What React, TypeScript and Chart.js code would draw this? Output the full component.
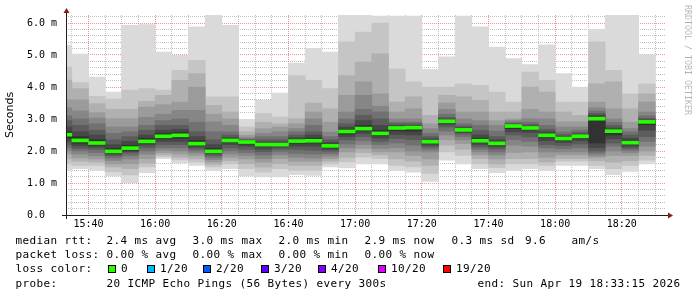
import React, { useEffect, useRef } from "react";
import { Chart, registerables } from "chart.js";

Chart.register(...registerables);

// ---- time axis -------------------------------------------------------------
const startTime = "15:33:15";
const endTime = "18:33:15";
// end time of each 5-minute RRD step
const steps = [
  "15:35", "15:40", "15:45", "15:50", "15:55", "16:00", "16:05", "16:10", "16:15",
  "16:20", "16:25", "16:30", "16:35", "16:40", "16:45", "16:50", "16:55", "17:00",
  "17:05", "17:10", "17:15", "17:20", "17:25", "17:30", "17:35", "17:40", "17:45",
  "17:50", "17:55", "18:00", "18:05", "18:10", "18:15", "18:20", "18:25", "18:30",
];
const timeTicks = ["15:40", "16:00", "16:20", "16:40", "17:00", "17:20", "17:40", "18:00", "18:20"];

// ---- y axis (ms) -------------------------------------------------------------
const yTickValues = [0, 1, 2, 3, 4, 5, 6];
const yTickLabels = ["0.0  ", "1.0 m", "2.0 m", "3.0 m", "4.0 m", "5.0 m", "6.0 m"];

// ---- median rtt per step (ms) --------------------------------------------------
const medianMs = [
  2.51, 2.33, 2.25, 1.99, 2.09, 2.30, 2.46, 2.49, 2.23, 1.99, 2.33, 2.28,
  2.20, 2.20, 2.31, 2.32, 2.16, 2.61, 2.70, 2.55, 2.72, 2.73, 2.29, 2.93,
  2.66, 2.32, 2.24, 2.78, 2.72, 2.49, 2.39, 2.46, 3.01, 2.62, 2.26, 2.91,
];

// ---- sorted ping rtts per step (ms), smoke is drawn between rank i and rank n-i ----
const s1535 = [1.41, 1.6, 1.75, 1.9, 2.0, 2.1, 2.2, 2.3, 2.4, 2.6, 2.75, 2.95, 3.1, 3.35, 3.6, 4.22, 4.63, 5.31];
const s1540 = [1.45, 1.55, 1.68, 1.78, 1.9, 2.0, 2.08, 2.16, 2.24, 2.45, 2.6, 2.8, 3.0, 3.25, 3.6, 3.95, 4.14, 5.03];
const s1545 = [1.4, 1.55, 1.65, 1.75, 1.85, 1.95, 2.05, 2.12, 2.18, 2.35, 2.5, 2.65, 2.85, 3.03, 3.2, 3.48, 3.71, 4.31];
const s1550 = [1.22, 1.35, 1.5, 1.6, 1.7, 1.78, 1.85, 1.9, 1.94, 2.08, 2.2, 2.35, 2.55, 2.75, 3.01, 3.3, 3.62, 3.84];
const s1555 = [1.01, 1.25, 1.45, 1.6, 1.75, 1.85, 1.93, 1.98, 2.02, 2.18, 2.3, 2.45, 2.6, 2.75, 3.01, 3.3, 3.9, 5.93];
const s1600 = [1.32, 1.5, 1.62, 1.76, 1.9, 2.0, 2.1, 2.18, 2.24, 2.4, 2.5, 2.65, 2.8, 3.05, 3.37, 3.55, 3.95, 5.95];
const s1605 = [1.76, 1.82, 1.88, 1.95, 2.02, 2.1, 2.2, 2.3, 2.38, 2.55, 2.65, 2.8, 2.95, 3.15, 3.45, 3.74, 3.9, 5.09];
const s1610 = [1.63, 1.72, 1.8, 1.9, 2.0, 2.1, 2.2, 2.3, 2.4, 2.58, 2.68, 2.8, 3.0, 3.27, 3.53, 4.21, 4.52, 4.99];
const s1615 = [1.55, 1.65, 1.75, 1.85, 1.93, 2.0, 2.06, 2.12, 2.18, 2.33, 2.45, 2.6, 2.9, 3.27, 4.0, 4.42, 4.83, 5.88];
const s1620 = [1.39, 1.5, 1.58, 1.66, 1.73, 1.8, 1.86, 1.91, 1.95, 2.08, 2.2, 2.35, 2.6, 2.91, 3.15, 3.43, 3.69, 6.24];
const s1625 = [1.45, 1.6, 1.7, 1.8, 1.9, 2.0, 2.1, 2.2, 2.28, 2.38, 2.42, 2.5, 2.6, 2.8, 3.0, 3.22, 3.69, 5.93];
const s1630 = [1.22, 1.45, 1.6, 1.75, 1.86, 1.95, 2.05, 2.15, 2.22, 2.31, 2.33, 2.35, 2.38, 2.42, 2.49, 2.6, 2.75, 2.99];
const s1635 = [1.19, 1.34, 1.5, 1.65, 1.76, 1.88, 1.98, 2.06, 2.14, 2.24, 2.28, 2.35, 2.45, 2.55, 2.7, 2.9, 3.17, 3.58];
const s1640 = [1.19, 1.45, 1.6, 1.76, 1.88, 1.97, 2.05, 2.12, 2.16, 2.24, 2.28, 2.35, 2.45, 2.6, 2.75, 2.85, 3.06, 3.81];
const s1645 = [1.26, 1.39, 1.55, 1.68, 1.8, 1.92, 2.05, 2.15, 2.24, 2.36, 2.42, 2.5, 2.6, 2.7, 2.85, 3.01, 4.36, 4.75];
const s1650 = [1.24, 1.39, 1.55, 1.68, 1.78, 1.9, 2.02, 2.15, 2.25, 2.4, 2.5, 2.6, 2.8, 3.0, 3.22, 3.5, 4.21, 5.2];
const s1655 = [1.5, 1.6, 1.68, 1.76, 1.84, 1.92, 1.99, 2.05, 2.1, 2.21, 2.27, 2.35, 2.45, 2.59, 2.9, 3.32, 3.95, 5.09];
const s1700 = [1.47, 1.66, 1.8, 1.97, 2.1, 2.22, 2.35, 2.45, 2.53, 2.68, 2.75, 2.85, 3.0, 3.22, 3.74, 4.36, 5.41, 6.26];
const s1705 = [1.6, 1.81, 1.95, 2.07, 2.2, 2.32, 2.45, 2.55, 2.63, 2.8, 2.95, 3.11, 3.3, 3.74, 4.16, 4.78, 5.72, 6.26];
const s1710 = [1.6, 1.76, 1.88, 1.97, 2.08, 2.2, 2.3, 2.4, 2.48, 2.65, 2.8, 3.0, 3.22, 3.4, 3.79, 5.04, 6.0, 6.22];
const s1715 = [1.39, 1.55, 1.75, 1.97, 2.1, 2.25, 2.39, 2.52, 2.63, 2.76, 2.8, 2.85, 2.9, 3.0, 3.22, 3.53, 4.57, 6.22];
const s1720 = [1.34, 1.5, 1.68, 1.86, 2.0, 2.18, 2.35, 2.5, 2.62, 2.77, 2.8, 2.85, 2.9, 3.0, 3.32, 3.69, 4.16, 6.22];
const s1725 = [1.05, 1.3, 1.55, 1.75, 1.97, 2.05, 2.12, 2.18, 2.24, 2.33, 2.38, 2.45, 2.55, 2.7, 2.85, 3.11, 4.0, 4.55];
const s1730 = [1.71, 1.97, 2.18, 2.35, 2.5, 2.62, 2.75, 2.83, 2.89, 2.97, 3.0, 3.05, 3.15, 3.3, 3.5, 3.74, 4.0, 4.94];
const s1735 = [1.6, 1.86, 2.05, 2.23, 2.35, 2.45, 2.53, 2.58, 2.62, 2.69, 2.73, 2.78, 2.85, 3.0, 3.22, 3.69, 4.1, 6.22];
const s1740 = [1.45, 1.6, 1.76, 1.88, 1.97, 2.05, 2.13, 2.2, 2.26, 2.4, 2.5, 2.64, 2.8, 2.95, 3.22, 3.58, 4.05, 5.88];
const s1745 = [1.32, 1.48, 1.6, 1.75, 1.88, 1.97, 2.06, 2.13, 2.19, 2.29, 2.35, 2.45, 2.62, 2.8, 2.95, 3.22, 3.84, 5.25];
const s1750 = [1.39, 1.6, 1.76, 1.95, 2.18, 2.35, 2.5, 2.6, 2.7, 2.81, 2.83, 2.86, 2.9, 2.95, 3.0, 3.22, 3.53, 4.89];
const s1755 = [1.45, 1.6, 1.76, 1.97, 2.15, 2.3, 2.44, 2.58, 2.66, 2.75, 2.78, 2.83, 2.9, 3.01, 3.3, 4.0, 4.47, 4.7];
const s1800 = [1.39, 1.55, 1.66, 1.8, 1.97, 2.1, 2.2, 2.32, 2.42, 2.54, 2.6, 2.68, 2.8, 3.0, 3.22, 3.84, 4.21, 5.32];
const s1805 = [1.55, 1.68, 1.76, 1.88, 1.97, 2.07, 2.17, 2.26, 2.33, 2.43, 2.46, 2.52, 2.6, 2.75, 2.91, 3.22, 3.53, 4.42];
const s1810 = [1.55, 1.68, 1.76, 1.88, 1.97, 2.1, 2.22, 2.32, 2.4, 2.49, 2.53, 2.58, 2.65, 2.75, 2.91, 3.11, 3.53, 4.0];
const s1815 = [1.45, 1.55, 1.7, 1.8, 1.86, 1.93, 2.0, 2.1, 2.25, 3.06, 3.12, 3.18, 3.25, 3.35, 3.53, 4.1, 5.41, 5.8];
const s1820 = [1.26, 1.45, 1.65, 1.86, 2.0, 2.15, 2.25, 2.38, 2.5, 2.67, 2.72, 2.8, 2.9, 3.0, 3.32, 4.16, 4.52, 6.24];
const s1825 = [1.36, 1.55, 1.7, 1.86, 1.95, 2.02, 2.08, 2.14, 2.2, 2.32, 2.4, 2.5, 2.6, 2.7, 2.9, 3.32, 3.79, 6.24];
const s1830 = [1.6, 1.71, 1.86, 2.0, 2.15, 2.3, 2.45, 2.65, 2.82, 2.94, 2.97, 3.02, 3.1, 3.22, 3.53, 3.79, 4.1, 5.01];

const smoke = [
  s1535, s1540, s1545, s1550, s1555, s1600, s1605, s1610, s1615, s1620, s1625, s1630,
  s1635, s1640, s1645, s1650, s1655, s1700, s1705, s1710, s1715, s1720, s1725, s1730,
  s1735, s1740, s1745, s1750, s1755, s1800, s1805, s1810, s1815, s1820, s1825, s1830,
];

// ---- legend texts ------------------------------------------------------------
const rttStats = ["2.4 ms avg", "3.0 ms max", "2.0 ms min", "2.9 ms now", "0.3 ms sd"];
const lossStats = ["0.00 % avg", "0.00 % max", "0.00 % min", "0.00 % now"];
const amsValue = "9.6";
const lossLabels = ["0", "1/20", "2/20", "3/20", "4/20", "10/20", "19/20"];
const lossColors = ["#26ff00", "#00b8ff", "#0059ff", "#5e00ff", "#7e00ff", "#dd00ff", "#ff0000"];
const probeText = "20 ICMP Echo Pings (56 Bytes) every 300s";

// ---- helpers -----------------------------------------------------------------
const toMin = (t: string) => {
  const [h, m, s] = t.split(":").map(Number);
  return h * 60 + m + (s || 0) / 60;
};
const X0 = toMin(startTime);
const X_RANGE = toMin(endTime) - X0;
const STEP_MIN = 5;
const xOf = (t: string) => toMin(t) - X0;
const fmtTime = (v: number) => {
  const tot = Math.round(X0 + v);
  const h = Math.floor(tot / 60);
  const m = tot % 60;
  return `${String(h).padStart(2, "0")}:${String(m).padStart(2, "0")}`;
};

const Y_MAX = 6.25;
const PLOT_H = 200;
const MEDIAN_HALF = (Y_MAX / PLOT_H) * 1.5;

const GRID = "rgba(143,143,143,0.55)";
const MGRID = "rgba(222,79,79,0.6)";
const MONO = '"DejaVu Sans Mono", monospace';

const decor = {
  id: "rrdDecor",
  afterDraw(chart: any) {
    const { ctx, chartArea: a } = chart;
    ctx.save();
    ctx.strokeStyle = "#1f1f1f";
    ctx.lineWidth = 1;
    const xb = a.bottom + 0.5;
    const yl = a.left + 0.5;
    ctx.beginPath();
    ctx.moveTo(a.left - 4, xb);
    ctx.lineTo(a.right + 4, xb);
    ctx.moveTo(yl, a.bottom + 4);
    ctx.lineTo(yl, a.top - 4);
    ctx.stroke();
    ctx.fillStyle = "#801f1f";
    ctx.beginPath();
    ctx.moveTo(a.right + 2, xb - 3);
    ctx.lineTo(a.right + 2, xb + 3);
    ctx.lineTo(a.right + 7, xb);
    ctx.closePath();
    ctx.fill();
    ctx.beginPath();
    ctx.moveTo(yl - 3, a.top - 2);
    ctx.lineTo(yl + 3, a.top - 2);
    ctx.lineTo(yl, a.top - 7);
    ctx.closePath();
    ctx.fill();
    ctx.translate(chart.width - 6, 5);
    ctx.rotate(Math.PI / 2);
    ctx.font = `8.3px ${MONO}`;
    ctx.fillStyle = "rgba(0,0,0,0.3)";
    ctx.textBaseline = "top";
    ctx.textAlign = "left";
    ctx.fillText("RRDTOOL / TOBI OETIKER", 0, 0);
    ctx.restore();
  },
};

export default function App() {
  const ref = useRef<HTMLCanvasElement | null>(null);

  useEffect(() => {
    if (!ref.current) return;
    const bandGray = [218, 197, 176, 155, 134, 113, 92, 71, 50];
    const common = {
      type: "bar" as const,
      grouped: false,
      barPercentage: 1,
      categoryPercentage: 1,
      borderWidth: 0,
      clip: 0,
    };
    const datasets: any[] = bandGray.map((g, b) => ({
      ...common,
      label: `smoke${b + 1}`,
      order: 20 - b,
      backgroundColor: `rgb(${g},${g},${g})`,
      data: steps.map((s, k) => ({
        x: xOf(s) - STEP_MIN / 2,
        y: [smoke[k][b], smoke[k][smoke[k].length - 1 - b]],
      })),
    }));
    datasets.push({
      ...common,
      label: "median",
      order: 0,
      backgroundColor: lossColors[0],
      data: steps.map((s, k) => ({
        x: xOf(s) - STEP_MIN / 2,
        y: [medianMs[k] - MEDIAN_HALF, medianMs[k] + MEDIAN_HALF],
      })),
    });

    const isMajorX = (v: number) => timeTicks.includes(fmtTime(v));
    const isMajorY = (v: number) => Math.abs(v - Math.round(v)) < 1e-6;

    const chart = new Chart(ref.current, {
      type: "bar",
      data: { datasets },
      plugins: [decor],
      options: {
        animation: false,
        responsive: false,
        layout: { padding: { left: 0, top: 15, right: 31, bottom: 62 } },
        plugins: { legend: { display: false }, tooltip: { enabled: false } },
        scales: {
          x: {
            type: "linear",
            min: 0,
            max: X_RANGE,
            offset: false,
            z: 1,
            afterBuildTicks: (scale: any) => {
              scale.ticks = steps.map((s) => ({ value: xOf(s) }));
            },
            afterFit: (scale: any) => {
              scale.height = 20;
            },
            grid: {
              offset: false,
              drawTicks: false,
              color: (c: any) => (c.tick && isMajorX(c.tick.value) ? MGRID : GRID),
            },
            border: { display: false, dash: [1, 1] },
            ticks: {
              autoSkip: false,
              maxRotation: 0,
              minRotation: 0,
              padding: 3,
              color: "#000",
              font: { family: MONO, size: 10 },
              callback: (v: any) => (isMajorX(Number(v)) ? fmtTime(Number(v)) : ""),
            },
          },
          y: {
            type: "linear",
            min: 0,
            max: Y_MAX,
            z: 1,
            afterBuildTicks: (scale: any) => {
              const t = [];
              for (let i = 0; i * 0.2 < Y_MAX - 0.01; i++) t.push({ value: Math.round(i * 2) / 10 });
              scale.ticks = t;
            },
            afterFit: (scale: any) => {
              scale.width = 66;
            },
            grid: {
              drawTicks: false,
              color: (c: any) => (c.tick && isMajorY(c.tick.value) ? MGRID : GRID),
            },
            border: { display: false, dash: [1, 1] },
            title: {
              display: true,
              text: "Seconds",
              color: "#000",
              font: { family: '"DejaVu Sans", sans-serif', size: 11 },
              padding: { top: 4, bottom: 0 },
            },
            ticks: {
              autoSkip: false,
              padding: 9,
              color: "#000",
              font: { family: MONO, size: 10 },
              callback: (v: any) => {
                const i = yTickValues.findIndex((y) => Math.abs(y - Number(v)) < 1e-6);
                return i >= 0 ? yTickLabels[i] : "";
              },
            },
          },
        },
      } as any,
    });
    return () => chart.destroy();
  }, []);

  const txt = (left: number, baseline: number, text: string, key: string) => (
    <span
      key={key}
      style={{
        position: "absolute",
        left,
        top: baseline - 10.8,
        font: `11px ${MONO}`,
        letterSpacing: "0.38px",
        lineHeight: "14px",
        whiteSpace: "pre",
        color: "#000",
      }}
    >
      {text}
    </span>
  );

  const colX = [107, 193, 279, 365, 452];
  const boxX = [108, 147, 203, 261, 318, 378, 443];
  const b1 = 244.4, b2 = 258.7, b3 = 273, b4 = 287.3;

  return (
    <div style={{ position: "fixed", left: 0, top: 0, width: 697, height: 297, background: "#fff", overflow: "hidden" }}>
      <canvas ref={ref} width={697} height={297} style={{ position: "absolute", left: 0, top: 0, width: 697, height: 297 }} />
      {txt(15.5, b1, "median rtt:", "l1")}
      {rttStats.map((s, i) => txt(colX[i] - 0.5, b1, s, `r${i}`))}
      {txt(525, b1, amsValue, "ams")}
      {txt(571.5, b1, "am/s", "amsu")}
      {txt(15.5, b2, "packet loss:", "l2")}
      {lossStats.map((s, i) => txt(colX[i] - 0.5, b2, s, `p${i}`))}
      {txt(15.5, b3, "loss color:", "l3")}
      {lossLabels.map((s, i) => (
        <React.Fragment key={`lc${i}`}>
          <span
            style={{
              position: "absolute",
              left: boxX[i],
              top: 265,
              width: 8,
              height: 8,
              boxSizing: "border-box",
              border: "1px solid #000",
              background: lossColors[i],
            }}
          />
          {txt(boxX[i] + 13, b3, s, `ll${i}`)}
        </React.Fragment>
      ))}
      {txt(15.5, b4, "probe:", "l4")}
      {txt(106.5, b4, probeText, "probe")}
      {txt(477.5, b4, `end: Sun Apr 19 ${endTime} 2026`, "end")}
    </div>
  );
}
